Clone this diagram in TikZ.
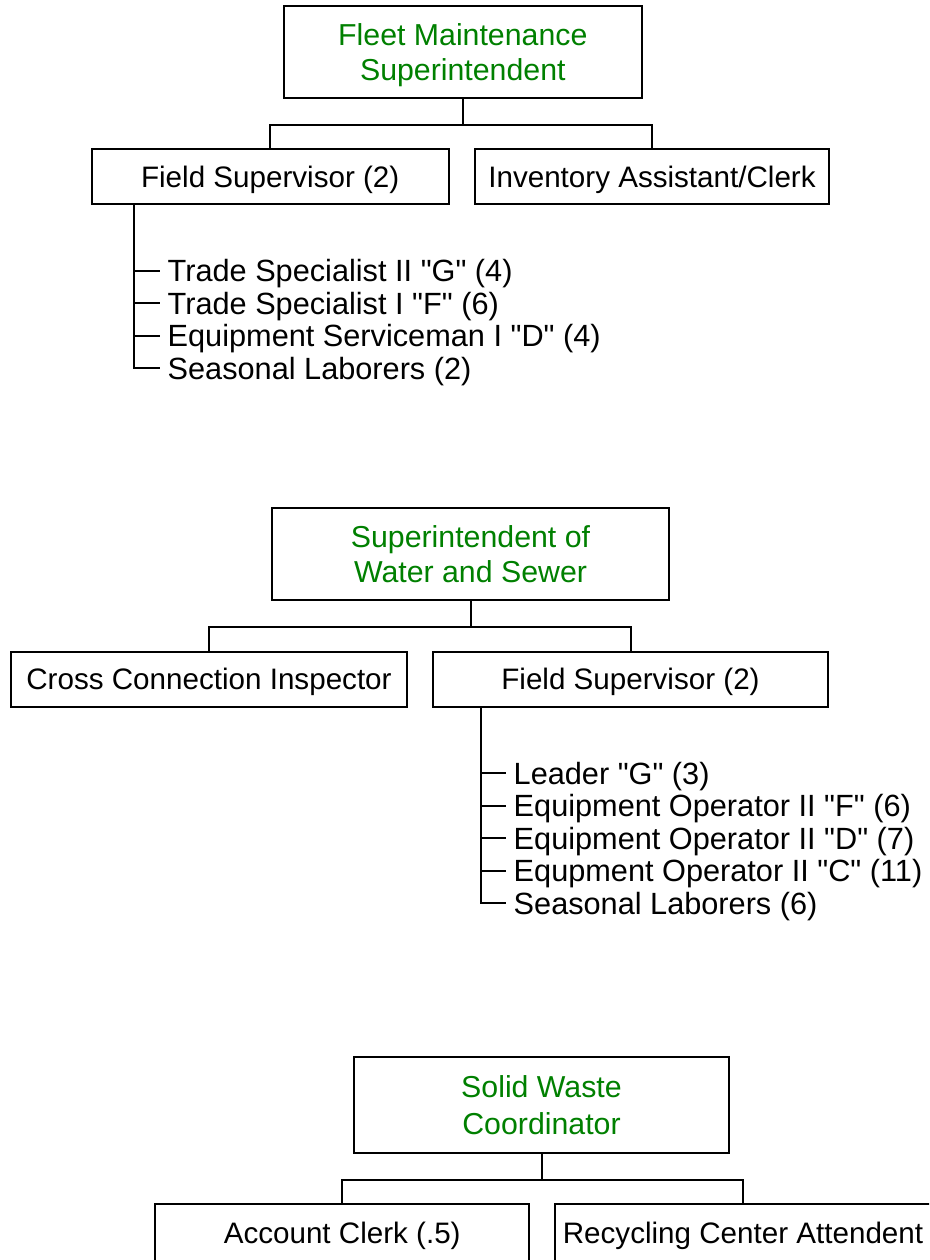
\documentclass[tikz,border=0pt]{standalone}
\usepackage{fontspec}
\setmainfont{Liberation Sans}[Ligatures=TeXOff]
\usetikzlibrary{calc}
\definecolor{headgreen}{RGB}{0,128,0}
\begin{document}
\begin{tikzpicture}[x=1pt,y=-1pt,
  conn/.style={line width=2pt},
  box/.style={draw, line width=2pt, inner sep=0pt, align=center,
    font=\fontsize{29.6}{35}\selectfont, text height=21.5pt, text depth=0pt,
    minimum height=55pt},
  head/.style={box, text=headgreen, font=\fontsize{30.3}{35}\selectfont,
    text height=57pt, minimum height=92pt},
  item/.style={anchor=west, inner xsep=7.5pt, inner ysep=0pt,
    font=\fontsize{30.7}{35}\selectfont, text height=22pt, text depth=0pt}]
\fill[white] (0,0) rectangle (929,1260);
\useasboundingbox (0,0) rectangle (929,1260);
\clip (0,0) rectangle (929,1260);

% ---------- Section 1 ----------
\node[head, minimum width=357.6pt, minimum height=91.7pt] (fm) at (462.8,51.9)
  {Fleet Maintenance\\Superintendent};
\node[box, minimum width=357pt] (fs1) at (270.2,176.8) {Field Supervisor (2)};
\node[box, minimum width=354pt] (inv) at (652,176.8) {Inventory Assistant/Clerk};
\coordinate (j1) at ($(fm.south)+(0,26.3)$);
\draw[conn] (fm.south) -- (j1);
\draw[conn] (fs1.north) |- (j1) -| (inv.north);

\node[item] (a1) at (160,270.5) {Trade Specialist II "G" (4)};
\node[item] (a2) at (160,303) {Trade Specialist I "F" (6)};
\node[item] (a3) at (160,335.5) {Equipment Serviceman I "D" (4)};
\node[item] (a4) at (160,368) {Seasonal Laborers (2)};
\coordinate (s1) at ($(fs1.south west)+(43.3,0)$);
\draw[conn] (s1) |- (a4.west);
\foreach \i in {1,2,3} \draw[conn] (s1 |- a\i.west) -- (a\i.west);

% ---------- Section 2 ----------
\node[head, minimum width=397pt, minimum height=92.5pt] (ws) at (470.5,554)
  {Superintendent of\\Water and Sewer};
\node[box, minimum width=396pt] (cci) at (209,679) {Cross Connection Inspector};
\node[box, minimum width=395pt] (fs2) at (630.5,679) {Field Supervisor (2)};
\coordinate (j2) at ($(ws.south)+(0,25.8)$);
\draw[conn] (ws.south) -- (j2);
\draw[conn] (cci.north) |- (j2) -| (fs2.north);

\node[item] (b1) at (506,773) {Leader "G" (3)};
\node[item] (b2) at (506,805.5) {Equipment Operator II "F" (6)};
\node[item] (b3) at (506,838) {Equipment Operator II "D" (7)};
\node[item] (b4) at (506,870.5) {Equpment Operator II "C" (11)};
\node[item] (b5) at (506,903) {Seasonal Laborers (6)};
\coordinate (s2) at ($(fs2.south west)+(49,0)$);
\draw[conn] (s2) |- (b5.west);
\foreach \i in {1,2,3,4} \draw[conn] (s2 |- b\i.west) -- (b\i.west);

% ---------- Section 3 ----------
\node[head, font=\fontsize{30.3}{37}\selectfont, text height=59pt,
  minimum width=375pt, minimum height=96pt] (sw) at (541.5,1105)
  {Solid Waste\\Coordinator};
\node[box, minimum width=374.4pt, minimum height=58pt] (acct) at (342.2,1233)
  {Account Clerk (.5)};
\node[box, minimum width=376pt, minimum height=58pt] (rec) at (743,1233)
  {Recycling Center Attendent};
\coordinate (j3) at ($(sw.south)+(0,26)$);
\draw[conn] (sw.south) -- (j3);
\draw[conn] (acct.north) |- (j3) -| (rec.north);
\end{tikzpicture}
\end{document}
